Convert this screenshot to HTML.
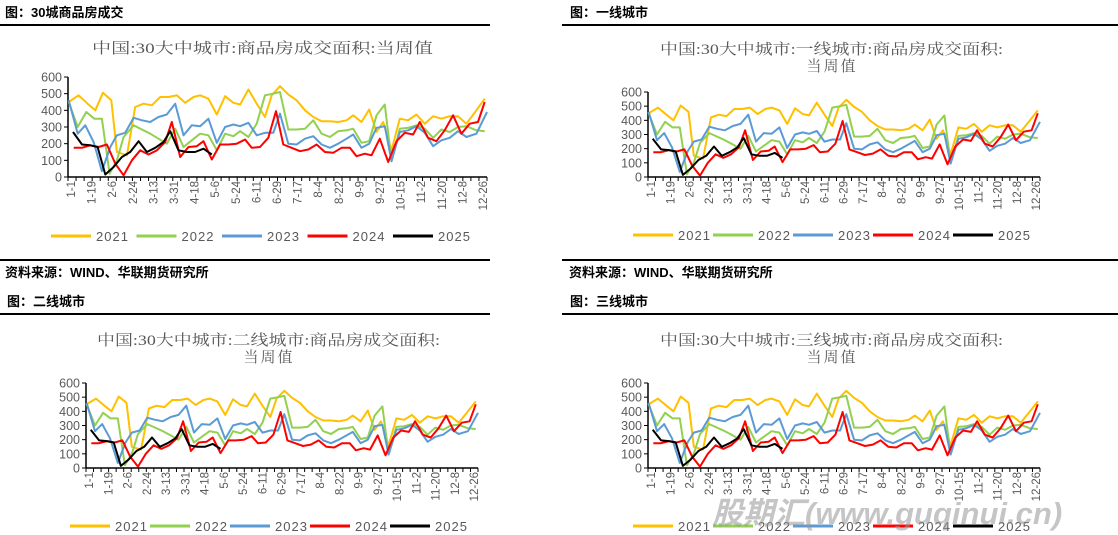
<!DOCTYPE html>
<html><head><meta charset="utf-8">
<style>
html,body{margin:0;padding:0;background:#fff;}
body{width:1118px;height:535px;position:relative;overflow:hidden;font-family:"Liberation Sans","Noto Sans CJK SC",sans-serif;}
.h{position:absolute;font-size:13px;font-weight:bold;color:#000;white-space:nowrap;font-family:"Liberation Sans","Noto Sans CJK SC",sans-serif;}
.rule{position:absolute;height:2px;background:#000;}
svg{position:absolute;left:0;top:0;}
</style></head><body>
<div class="h" style="left:5px;top:2px">图：30城商品房成交</div>
<div class="h" style="left:570px;top:2px">图：一线城市</div>
<div class="rule" style="left:0;top:24px;width:490px"></div>
<div class="rule" style="left:562px;top:24px;width:556px"></div>
<div class="rule" style="left:0;top:259px;width:490px"></div>
<div class="rule" style="left:562px;top:259px;width:556px"></div>
<div class="h" style="left:5px;top:262px">资料来源：WIND、华联期货研究所</div>
<div class="h" style="left:569px;top:262px">资料来源：WIND、华联期货研究所</div>
<div class="h" style="left:7px;top:291px">图：二线城市</div>
<div class="h" style="left:570px;top:291px">图：三线城市</div>
<div class="rule" style="left:0;top:313px;width:490px"></div>
<div class="rule" style="left:562px;top:313px;width:556px"></div>
<svg id="s" width="1118" height="535"></svg>
<div style="position:absolute;left:712px;top:488px;font-size:31px;font-weight:bold;font-style:italic;color:rgba(150,150,150,0.55);font-family:'Liberation Sans','Noto Sans CJK SC',sans-serif;white-space:nowrap">股期汇(www.guqinui.cn)</div>
<script>
var D={
y21:[[205,450],[235,490],[262,440],[285,400],[308,505],[333,460],[350,150],[365,140],[380,130],[405,420],[430,440],[455,430],[480,480],[505,480],[530,490],[555,445],[580,480],[600,490],[625,470],[650,375],[675,485],[700,445],[720,435],[745,525],[770,440],[795,360],[815,490],[840,545],[865,495],[890,460],[915,400],[940,360],[965,335],[990,335],[1015,330],[1040,340],[1060,370],[1085,330],[1108,405],[1130,270],[1150,330],[1175,160],[1200,350],[1225,340],[1250,375],[1275,320],[1300,365],[1325,350],[1350,365],[1375,365],[1400,320],[1430,400],[1455,470]],
g22:[[205,450],[232,300],[258,390],[282,350],[305,350],[328,20],[350,100],[370,240],[400,310],[425,285],[450,260],[475,230],[500,200],[525,290],[550,180],[575,220],[600,260],[625,250],[650,160],[675,260],[700,245],[720,275],[745,240],[770,320],[795,490],[820,500],[840,510],[865,285],[890,285],[915,290],[940,340],[965,260],[990,240],[1015,275],[1040,280],[1060,290],[1085,205],[1108,215],[1130,370],[1155,435],[1175,95],[1200,290],[1225,295],[1250,310],[1275,290],[1300,235],[1325,285],[1350,270],[1375,300],[1400,305],[1430,280],[1455,275]],
b23:[[205,460],[232,260],[255,310],[280,210],[305,35],[330,180],[350,250],[375,265],[400,355],[425,340],[450,330],[475,360],[500,375],[525,440],[550,250],[575,310],[600,305],[625,350],[650,205],[675,300],[700,315],[720,305],[745,325],[770,250],[795,265],[820,265],[840,380],[865,200],[890,195],[915,230],[940,245],[965,195],[990,175],[1015,200],[1040,230],[1060,255],[1085,175],[1108,200],[1130,295],[1155,305],[1175,95],[1200,270],[1225,280],[1250,305],[1275,265],[1300,185],[1325,220],[1350,235],[1375,275],[1400,240],[1430,260],[1462,390]],
r24:[[220,175],[245,175],[270,190],[295,180],[320,195],[345,80],[370,10],[395,100],[420,160],[445,135],[470,160],[495,210],[515,330],[540,120],[565,180],[590,185],[610,215],[635,105],[660,195],[685,195],[710,200],[735,225],[755,175],[780,180],[805,235],[828,395],[850,195],[875,175],[900,155],[925,165],[950,195],[975,150],[1000,145],[1025,175],[1050,175],[1070,125],[1095,140],[1115,130],[1140,230],[1165,90],[1190,215],[1215,265],[1240,255],[1260,330],[1285,235],[1310,215],[1335,280],[1360,370],[1385,260],[1410,320],[1435,330],[1455,450]],
k25:[[218,270],[245,195],[270,190],[292,180],[315,15],[340,60],[365,120],[390,150],[415,215],[440,150],[465,175],[490,210],[510,275],[535,160],[560,150],[585,150],[610,170],[635,135]]
};
var cols={y21:"#FFC000",g22:"#92D050",b23:"#5B9BD5",r24:"#FF0000",k25:"#000000"};
var labs=["1-1","1-19","2-6","2-24","3-13","3-31","4-18","5-6","5-24","6-11","6-29","7-17","8-4","8-22","9-9","9-27","10-15","11-2","11-20","12-8","12-26"];
var out="";
var G="#595959";
function chart(c){
  var x0=c.x0,xR=c.xR,y0=c.y0,y6=c.y6,w=xR-x0;
  function X(z){return x0+(z-203)/1259*w;}
  function Y(v){return y0-(v/600)*(y0-y6);}
  out+='<text x="'+c.tx+'" y="'+c.ty+'" textLength="'+c.tl+'" lengthAdjust="spacingAndGlyphs" font-size="15" fill="'+G+'" font-family="Liberation Serif,Noto Serif CJK SC,serif">'+c.t[0]+'</text>';
  if(c.t[1]) out+='<text x="'+c.cx+'" y="'+(c.ty+17)+'" text-anchor="middle" font-size="15" letter-spacing="2" fill="'+G+'" font-family="Liberation Serif,Noto Serif CJK SC,serif">'+c.t[1]+'</text>';
  out+='<line x1="'+x0+'" y1="'+y6+'" x2="'+x0+'" y2="'+y0+'" stroke="#000" stroke-width="1.5"/>';
  for(var v=0;v<=600;v+=100){var yy=Y(v);out+='<line x1="'+(x0-4)+'" y1="'+yy+'" x2="'+x0+'" y2="'+yy+'" stroke="#000"/>';
    out+='<text x="'+(x0-6)+'" y="'+(yy+4.5)+'" text-anchor="end" font-size="12.5" fill="'+G+'">'+v+'</text>';}
  out+='<line x1="'+x0+'" y1="'+y0+'" x2="'+xR+'" y2="'+y0+'" stroke="#000" stroke-width="1.5"/>';
  for(var i=0;i<=52;i++){var xx=x0+i*w/52;out+='<line x1="'+xx+'" y1="'+y0+'" x2="'+xx+'" y2="'+(y0+4)+'" stroke="#000"/>';}
  labs.forEach(function(l,i){var xx=x0+3+i*(w-7)/20;out+='<text transform="translate('+(xx+4)+','+(y0+4)+') rotate(-90)" text-anchor="end" font-size="11.5" fill="'+G+'">'+l+'</text>';});
  ["y21","g22","b23","r24","k25"].forEach(function(k){
    var p=D[k].map(function(q){return X(q[0]).toFixed(1)+","+Y(q[1]).toFixed(1);}).join(" ");
    out+='<polyline points="'+p+'" fill="none" stroke="'+cols[k]+'" stroke-width="2" stroke-linejoin="round"/>';
  });
  var names=["2021","2022","2023","2024","2025"];
  ["y21","g22","b23","r24","k25"].forEach(function(k,i){
    var lx=c.lx+i*c.ls;
    out+='<line x1="'+lx+'" y1="'+c.ly+'" x2="'+(lx+40)+'" y2="'+c.ly+'" stroke="'+cols[k]+'" stroke-width="3"/>';
    out+='<text x="'+(lx+45)+'" y="'+(c.ly+5)+'" font-size="13" fill="'+G+'" letter-spacing="1">'+names[i]+'</text>';
  });
}
chart({x0:68,xR:487,y0:177,y6:77,t:["中国:30大中城市:商品房成交面积:当周值"],tx:92,tl:341,ty:53,lx:51,ls:85.5,ly:236});
chart({x0:648,xR:1040,y0:177,y6:92,t:["中国:30大中城市:一线城市:商品房成交面积:","当周值"],tx:660,tl:343,cx:832,ty:54,lx:633,ls:80,ly:235});
chart({x0:86,xR:478,y0:468,y6:383,t:["中国:30大中城市:二线城市:商品房成交面积:","当周值"],tx:97,tl:343,cx:269,ty:345,lx:70,ls:80,ly:526});
chart({x0:648,xR:1040,y0:468,y6:383,t:["中国:30大中城市:三线城市:商品房成交面积:","当周值"],tx:660,tl:343,cx:832,ty:345,lx:633,ls:80,ly:526});
document.getElementById("s").innerHTML=out;
</script>
</body></html>
